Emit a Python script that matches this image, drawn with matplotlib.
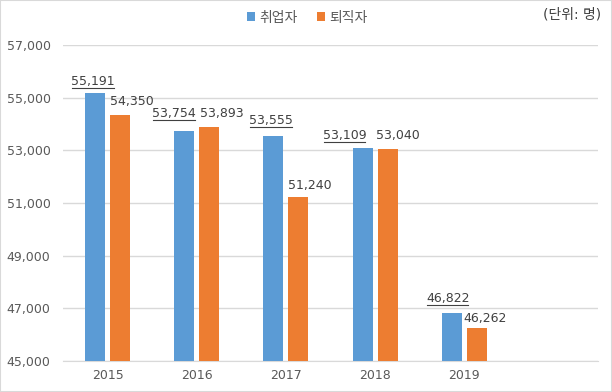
import numpy as np
import matplotlib.pyplot as plt
from matplotlib.patches import Rectangle
from matplotlib.lines import Line2D

plt.rcParams['font.family'] = ['DejaVu Sans', 'Noto Sans CJK KR']

# data
years = ['2015', '2016', '2017', '2018', '2019', '']
hired = [55191, 53754, 53555, 53109, 46822]
retired = [54350, 53893, 51240, 53040, 46262]
series_names = ['취업자', '퇴직자']
unit_text = '(단위: 명)'

# label nudges in pixels (dx, dy from bar top), like Excel's placement
blue_dx = [-2, -10, -2, -18, -4]
blue_dy = [11, 17, 15, 12, 15]
orange_dx = [12, 13, 11, 10, 8]
orange_dy = [13, 13, 11, 14, 9]

blue = '#5B9BD5'
orange = '#ED7D31'
txt = '#404040'

fig = plt.figure(figsize=(6.12, 3.92), dpi=100)
ax = fig.add_axes([0.103, 0.079, 0.874, 0.806])

x = np.arange(len(years))
w = 0.225
off = 0.14
b1 = ax.bar(x[:len(hired)] - off, hired, w, color=blue, label=series_names[0], zorder=3)
b2 = ax.bar(x[:len(retired)] + off, retired, w, color=orange, label=series_names[1], zorder=3)

ax.set_ylim(45000, 57000)
ax.set_xlim(-0.5, len(years) - 0.5)
ax.set_yticks(np.arange(45000, 57001, 2000))
ax.set_yticklabels([f'{v:,}' for v in range(45000, 57001, 2000)])
ax.set_xticks(x)
ax.set_xticklabels(years)
ax.tick_params(length=0, labelsize=9, colors='#595959', pad=6)
ax.tick_params(axis='y', pad=9)
ax.grid(axis='y', color='#D9D9D9', lw=1, zorder=0)
for s in ax.spines.values():
    s.set_visible(False)
ax.spines['bottom'].set_visible(True)
ax.spines['bottom'].set_color('#D9D9D9')

px = 0.72  # points per pixel at dpi 100
labels_blue = []
for xi, v, dx, dy in zip(x, hired, blue_dx, blue_dy):
    t = ax.annotate(f'{v:,}', (xi - off, v), xytext=(dx * px, dy * px), textcoords='offset points',
                    ha='center', va='center', fontsize=9, color=txt, zorder=4)
    labels_blue.append(t)
for xi, v, dx, dy in zip(x, retired, orange_dx, orange_dy):
    ax.annotate(f'{v:,}', (xi + off, v), xytext=(dx * px, dy * px), textcoords='offset points',
                ha='center', va='center', fontsize=9, color=txt, zorder=4)

# underline the blue labels
fig.canvas.draw()
r = fig.canvas.get_renderer()
inv = fig.transFigure.inverted()
for t in labels_blue:
    bb = t.get_window_extent(r)
    (x0, y0), (x1, y1) = inv.transform([(bb.x0 + 1, bb.y0), (bb.x1 - 1, bb.y0)])
    fig.add_artist(Line2D([x0, x1], [y0, y1], transform=fig.transFigure, color=txt, lw=0.8))

fig.legend(handles=[b1, b2], loc='center', bbox_to_anchor=(0.502, 0.955), ncol=2,
           frameon=False, fontsize=10, handlelength=0.6, handleheight=0.6,
           handletextpad=0.3, columnspacing=1.4, labelcolor='#595959')
fig.text(0.982, 0.962, unit_text, ha='right', va='center', fontsize=10, color='#404040')

fig.add_artist(Rectangle((0, 0), 1, 1, transform=fig.transFigure, fill=False,
                         edgecolor='#D9D9D9', lw=1.5))

fig.savefig('out.png', dpi=100)
